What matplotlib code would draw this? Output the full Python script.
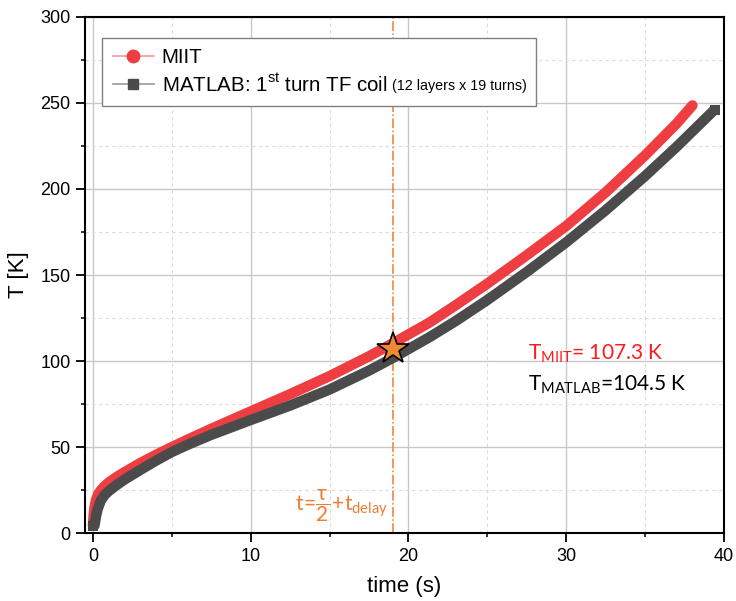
#!/usr/bin/env python3
"""Hot-spot temperature of the first TF coil turn: MIIT estimate vs MATLAB model."""

import matplotlib
matplotlib.use("Agg")
import matplotlib.pyplot as plt
from matplotlib.lines import Line2D
from matplotlib.ticker import MultipleLocator

# MIIT adiabatic estimate
t_miit = [0, 0.05, 0.1, 0.2, 0.35, 0.5, 0.75, 1, 1.5, 2, 3, 4, 5, 6, 7.5,
          10, 12.5, 15, 17.5, 19, 21.35, 23, 25, 27.5, 30, 32.5, 35, 37, 38]
T_miit = [4.5, 11, 15, 19.5, 23, 25, 27.5, 29.5, 32.7, 35.5, 40.8, 45.6,
          50.1, 54.4, 60.7, 70.8, 80.8, 91.3, 102.8, 110.3, 122.5, 132.5,
          145, 161.5, 178.5, 198, 219.5, 238, 248.5]

# MATLAB model, first turn of the TF coil
t_matlab = [0, 0.1, 0.2, 0.3, 0.5, 0.75, 1, 1.5, 2, 3, 4, 5, 6, 7.5, 10,
            12.5, 15, 17.5, 19, 21.35, 23, 25, 27.5, 30, 32.5, 35, 37, 39.4]
T_matlab = [4.5, 4.5, 10, 14, 19, 22.3, 24.5, 28, 31.2, 36.8, 42.2, 47.2,
            51.4, 57.2, 65.8, 74.2, 83.5, 94.5, 101.8, 114, 123.3, 135.5,
            151.8, 169, 187.6, 207.5, 224.5, 246]

t_mark = 19
T_mark = 107.3
T_miit_label = "107.3 K"
T_matlab_label = "104.5 K"

RED = "#EF3E42"
GREY = "#4B4B4B"
ORANGE = "#ED7D31"

plt.rcParams["font.family"] = ["Liberation Sans", "DejaVu Sans"]

fig = plt.figure(figsize=(7.36, 6.01), dpi=100)
ax = fig.add_axes([0.1155, 0.1126, 0.8682, 0.8596])

ax.plot(t_miit, T_miit, color=RED, lw=7.5, solid_capstyle="round",
        solid_joinstyle="round", zorder=3)
ax.plot(t_matlab, T_matlab, color=GREY, lw=7.5, solid_capstyle="butt",
        solid_joinstyle="round", marker="s", markersize=7.5,
        markevery=[0, len(t_matlab) - 1], markeredgewidth=0, zorder=4)

ax.axvline(t_mark, color=ORANGE, lw=1.1, ls="-.", zorder=2)
ax.plot([t_mark], [T_mark], marker="*", markersize=24, markerfacecolor="#F08A30",
        markeredgecolor="black", markeredgewidth=1.2, zorder=6)

ax.set_xlim(-0.5, 40)
ax.set_ylim(0, 300)
ax.xaxis.set_major_locator(MultipleLocator(10))
ax.xaxis.set_minor_locator(MultipleLocator(5))
ax.yaxis.set_major_locator(MultipleLocator(50))
ax.yaxis.set_minor_locator(MultipleLocator(25))

ax.grid(which="major", color="#c8c8c8", lw=1.0, ls="-", zorder=0)
ax.grid(which="minor", color="#dcdcdc", lw=0.8, ls=(0, (3, 3)), zorder=0)
ax.set_axisbelow(True)

ax.tick_params(which="major", direction="out", length=6.5, width=1.3, labelsize=13, pad=4)
ax.tick_params(which="minor", direction="out", length=3, width=1.1)
for side in ["left", "bottom", "right", "top"]:
    ax.spines[side].set_linewidth(1.5)
    ax.spines[side].set_color("black")

ax.set_xlabel("time (s)", fontsize=16, labelpad=8)
ax.set_ylabel("T [K]", fontsize=16, labelpad=8)

handles = [
    Line2D([], [], color="#F29A9A", lw=1.2, marker="o", markersize=9,
           markerfacecolor=RED, markeredgecolor=RED),
    Line2D([], [], color="#9a9a9a", lw=1.2, marker="s", markersize=7.5,
           markerfacecolor=GREY, markeredgecolor=GREY),
]
labels = ["MIIT", r"MATLAB: 1$^{\mathregular{st}}$ turn TF coil"]
leg = ax.legend(handles, labels, loc="upper left",
                bbox_to_anchor=(0.027, 0.829, 0.679, 0.13), mode="expand",
                borderaxespad=0, fontsize=14.8, frameon=True, fancybox=False,
                edgecolor="#808080", framealpha=1, handlelength=2.0,
                handletextpad=0.4, labelspacing=0.3, borderpad=0.5)
leg.get_frame().set_linewidth(1.0)
leg.set_zorder(7)

fig.canvas.draw()
ax.annotate("(12 layers x 19 turns)", xy=(1, 0), xycoords=leg.get_texts()[1],
            xytext=(3, 1.5), textcoords="offset points", fontsize=10.3,
            va="bottom", ha="left", zorder=8)

ax.text(27.6, 100.6, r"$\mathregular{T_{MIIT}}$= " + T_miit_label,
        color="#FF1A1A", fontsize=15, family="Lato", va="baseline")
ax.text(27.6, 82.8, r"$\mathregular{T_{MATLAB}}$=" + T_matlab_label,
        color="black", fontsize=15, family="Lato", va="baseline")
ax.text(12.8, 13.5, r"$\mathregular{t\!=\!\dfrac{\tau}{2}\!+\!t_{delay}}$",
        color=ORANGE, fontsize=15, family="Lato", va="baseline")

fig.savefig("out.png", dpi=100)
plt.close(fig)
